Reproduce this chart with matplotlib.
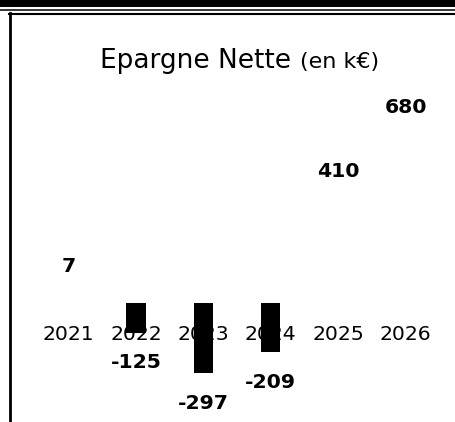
import matplotlib
matplotlib.use("Agg")
import matplotlib.pyplot as plt
from matplotlib.patches import Rectangle
from matplotlib.lines import Line2D

years = ["2021", "2022", "2023", "2024", "2025", "2026"]
values = [7, -125, -297, -209, 410, 680]
title_main = "Epargne Nette"
title_unit = "(en k€)"

W, H = 455, 422
fig = plt.figure(figsize=(W / 100, H / 100), dpi=100)
fig.patch.set_facecolor("white")

def fx(x):
    return x / W

def fy(y):
    return 1 - y / H

# page decorations (scan frame)
fig.add_artist(Rectangle((0, fy(6.5)), 1, 6.5 / H, transform=fig.transFigure,
                         facecolor="black", edgecolor="none"))
fig.add_artist(Line2D([0, 1], [fy(9.5), fy(9.5)], transform=fig.transFigure,
                      color="black", lw=1.1))
fig.add_artist(Line2D([fx(9), 1], [fy(13.5), fy(13.5)], transform=fig.transFigure,
                      color="black", lw=1.5))
fig.add_artist(Line2D([fx(10), fx(10)], [fy(13), 0], transform=fig.transFigure,
                      color="black", lw=2.0))

# axes
ax = fig.add_axes([fx(10), 0, (W - 10) / W, (H - 15) / H])
ax.set_facecolor("none")
for s in ax.spines.values():
    s.set_visible(False)
ax.set_xticks([])
ax.set_yticks([])

zero_px = 303
scale = 0.236  # px per unit
ax.set_ylim(-(H - zero_px) / scale, (zero_px - 15) / scale)
x0, dx = 68.5, 67.4
ax.set_xlim((10 - x0) / dx, (W - x0) / dx)

xs = list(range(len(years)))
colors = ["black" if v < 0 else "white" for v in values]
ax.bar(xs, values, width=0.29, color=colors, edgecolor="none", zorder=2)

for x, yl in zip(xs, years):
    ax.annotate(yl, (x, 0), xytext=(0, -23), textcoords="offset points",
                ha="center", va="center", fontsize=14.7, family="DejaVu Sans",
                color="black", zorder=1)

for x, v in zip(xs, values):
    off = 25.2 if v >= 0 else -21.6
    ax.annotate(str(v), (x, v), xytext=(0, off), textcoords="offset points",
                ha="center", va="center", fontsize=14.7, fontweight="bold",
                family="DejaVu Sans", color="black", zorder=3)

fig.text(fx(100), fy(68), title_main, ha="left", va="baseline", fontsize=19,
         family="DejaVu Sans", color="black")
fig.text(fx(300), fy(68), title_unit, ha="left", va="baseline", fontsize=16,
         family="DejaVu Sans", color="black")

fig.savefig("out.png", dpi=100, facecolor="white")
